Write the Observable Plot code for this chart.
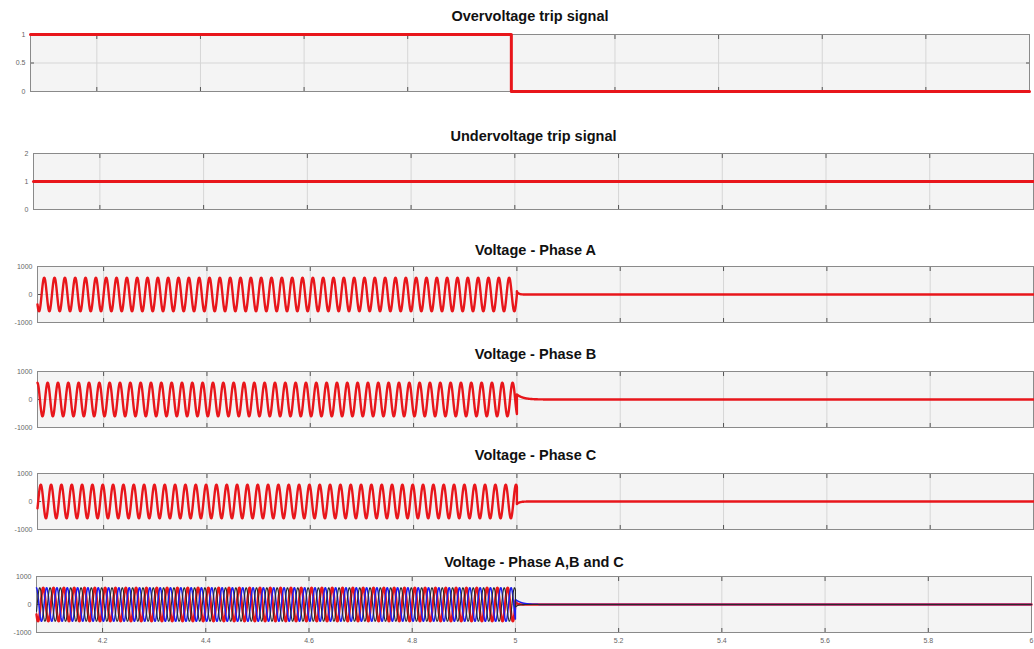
<!DOCTYPE html>
<html><head><meta charset="utf-8">
<script src="https://cdn.jsdelivr.net/npm/d3@7"></script>
<script src="https://cdn.jsdelivr.net/npm/@observablehq/plot@0.6"></script>
<style>
body{margin:0;background:#fff;}
#chart{position:relative;width:1034px;height:649px;overflow:hidden;font-family:"Liberation Sans",Arial,sans-serif;}
#chart svg{position:absolute;left:0;}
</style></head><body><div id="chart"></div>
<script>
// ---- data ----
const xDomain = [4.072, 6];
const xTicks = [4.2, 4.4, 4.6, 4.8, 5, 5.2, 5.4, 5.6, 5.8, 6];
const xTickLabels = ["4.2", "4.4", "4.6", "4.8", "5", "5.2", "5.4", "5.6", "5.8", "6"];

const panelTitles = ["Overvoltage trip signal", "Undervoltage trip signal", "Voltage - Phase A",
  "Voltage - Phase B", "Voltage - Phase C", "Voltage - Phase A,B and C"];

const ovTimes = [4.072, 5.0, 6.0];
const ovValues = [1, 0, 0];
const ovYTicks = [0, 0.5, 1];
const ovYLabels = ["0", "0.5", "1"];

const uvTimes = [4.072, 6.0];
const uvValues = [1, 1];
const uvYTicks = [0, 1, 2];
const uvYLabels = ["0", "1", "2"];

const voltYTicks = [-1000, 0, 1000];
const voltYLabels = ["-1000", "0", "1000"];

const phaseNames = ["A", "B", "C"];
const phaseAmplitude = [600, 600, 600];
const phaseAngleDeg = [0, -120, 120];
const frequencyHz = 50;
const tripTime = 5.0;
const residualPeak = [120, 180, -90];
const residualTau = [0.003, 0.012, 0.005];
const phaseColors = ["#e8161b", "#1c1cf0", "#2a2a2a"];

// ---- build waveform tables ----
const tStep = 0.0004;
function phaseSeries(k) {
  const rows = [];
  const w = 2 * Math.PI * frequencyHz, ph = phaseAngleDeg[k] * Math.PI / 180;
  for (let t = xDomain[0]; t < tripTime; t += tStep) rows.push({t, v: phaseAmplitude[k] * Math.sin(w * t + ph), phase: phaseNames[k]});
  rows.push({t: tripTime, v: phaseAmplitude[k] * Math.sin(w * tripTime + ph), phase: phaseNames[k]});
  for (let t = tripTime; t <= xDomain[1] + 1e-9; t += tStep) rows.push({t, v: residualPeak[k] * Math.exp(-(t - tripTime) / residualTau[k]), phase: phaseNames[k]});
  return rows;
}
const series = phaseNames.map((_, k) => phaseSeries(k));
const ovData = ovTimes.map((t, i) => ({t, v: ovValues[i]}));
const uvData = uvTimes.map((t, i) => ({t, v: uvValues[i]}));

// ---- layout ----
const layout = [
  {top: 34, bottom: 91, left: 30, right: 5, titleY: 16},
  {top: 153, bottom: 209, left: 33, right: 1, titleY: 136},
  {top: 266, bottom: 322, left: 37, right: 1, titleY: 250},
  {top: 371, bottom: 427, left: 37, right: 1, titleY: 354},
  {top: 473, bottom: 529, left: 37, right: 1, titleY: 455},
  {top: 576, bottom: 632, left: 36, right: 3, titleY: 562}
];

const chart = document.getElementById("chart");
const lab = (ticks, labels) => d => labels[ticks.indexOf(d)];

function panel(idx, yDomain, yTicks, yLabels, yGrid, marks, showX) {
  const cfg = layout[idx];
  const mt = 30, mb = showX ? 17 : 4;
  const h = cfg.bottom - cfg.top + mt + mb;
  const svg = Plot.plot({
    width: 1034, height: h, marginTop: mt, marginBottom: mb, marginLeft: cfg.left, marginRight: cfg.right,
    x: {domain: xDomain},
    y: {domain: yDomain},
    style: {fontFamily: "'Liberation Sans', Arial, sans-serif", background: "transparent", overflow: "visible"},
    marks: [
      Plot.frame({fill: "#f4f4f4", stroke: null}),
      Plot.ruleX(xTicks, {stroke: "#d6d6d6", strokeWidth: 1}),
      Plot.ruleY(yGrid, {stroke: "#d6d6d6", strokeWidth: 1}),
      Plot.axisX({anchor: "top", ticks: xTicks, tickSize: -4, tickFormat: () => "", stroke: "#555", label: null}),
      Plot.axisX({anchor: "bottom", ticks: xTicks, tickSize: -4, tickFormat: () => "", stroke: "#555", label: null}),
      Plot.axisY({anchor: "left", ticks: yTicks, tickSize: -4, tickFormat: () => "", stroke: "#555", label: null}),
      Plot.axisY({anchor: "right", ticks: yTicks, tickSize: -4, tickFormat: () => "", stroke: "#555", label: null}),
      Plot.frame({stroke: "#8a8a8a", strokeWidth: 1}),
      ...marks,
      Plot.axisY({anchor: "left", ticks: yTicks, tickSize: 0, tickPadding: 5, tickFormat: lab(yTicks, yLabels), fontSize: 7, fill: "#666", label: null}),
      showX ? Plot.axisX({anchor: "bottom", ticks: xTicks, tickSize: 0, tickPadding: 6, tickFormat: lab(xTicks, xTickLabels), fontSize: 7, fill: "#666", label: null}) : null,
      Plot.text([panelTitles[idx]], {frameAnchor: "top", dy: cfg.titleY - cfg.top, lineAnchor: "middle", fontWeight: "bold", fontSize: 14.5, fill: "#111"})
    ]
  });
  svg.style.top = (cfg.top - mt) + "px";
  chart.appendChild(svg);
}

panel(0, [0, 1], ovYTicks, ovYLabels, [0.5],
  [Plot.line(ovData, {x: "t", y: "v", curve: "step-after", stroke: "#e8161b", strokeWidth: 3})], false);
panel(1, [0, 2], uvYTicks, uvYLabels, [1],
  [Plot.line(uvData, {x: "t", y: "v", stroke: "#e8161b", strokeWidth: 3})], false);
for (let k = 0; k < 3; k++) {
  panel(2 + k, [-1000, 1000], voltYTicks, voltYLabels, [0],
    [Plot.line(series[k], {x: "t", y: "v", stroke: "#e8161b", strokeWidth: 2.4})], false);
}
panel(5, [-1000, 1000], voltYTicks, voltYLabels, [0], [
  Plot.line(series[0], {x: "t", y: "v", stroke: phaseColors[0], strokeWidth: 2.4}),
  Plot.line(series[1], {x: "t", y: "v", stroke: phaseColors[1], strokeWidth: 1.5}),
  Plot.line(series[2], {x: "t", y: "v", stroke: phaseColors[2], strokeWidth: 1.1})
], true);
</script></body></html>
